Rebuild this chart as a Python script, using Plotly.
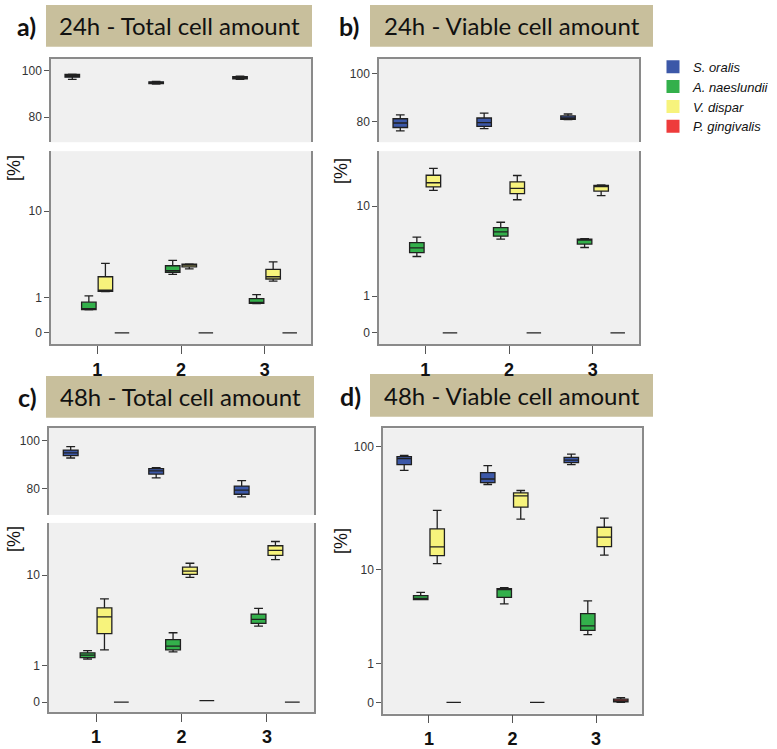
import plotly.graph_objects as go

W, H = 777, 749

GROUPS = [1, 2, 3]
SERIES = ["S. oralis", "A. naeslundii", "V. dispar", "P. gingivalis"]
COLORS = ["#3c58a8", "#33b04b", "#f7f37c", "#ee3b3b"]

# each box: [lower whisker, Q1, median, Q3, upper whisker]  (percent)
a_oralis = [[96.2, 97.1, 97.7, 98.3, 98.4], [94.1, 94.3, 94.7, 95.1, 95.3], [96.2, 96.4, 96.9, 97.3, 97.5]]
a_naesl = [[0.57, 0.58, 0.60, 0.83, 1.07], [2.17, 2.29, 2.40, 2.75, 3.17], [0.78, 0.79, 0.82, 0.96, 1.12]]
a_dispar = [[1.25, 1.27, 1.29, 2.02, 2.93], [2.53, 2.67, 2.80, 2.87, 2.90], [1.77, 1.89, 2.02, 2.49, 3.05]]
a_ging = [[0, 0, 0, 0, 0], [0, 0, 0, 0, 0], [0, 0, 0, 0, 0]]

b_oralis = [[76.0, 77.4, 79.3, 81.1, 82.7], [76.9, 77.9, 79.5, 81.4, 83.5], [80.7, 80.8, 81.4, 82.3, 83.1]]
b_naesl = [[3.24, 3.57, 4.00, 4.52, 5.11], [4.89, 5.23, 5.75, 6.32, 7.10], [4.03, 4.36, 4.81, 4.89, 4.95]]
b_dispar = [[13.8, 14.8, 16.1, 18.7, 21.4], [11.4, 12.9, 14.4, 16.4, 18.6], [12.4, 13.6, 14.9, 15.3, 15.4]]
b_ging = [[0, 0, 0, 0, 0], [0, 0, 0, 0, 0], [0, 0, 0, 0, 0]]

c_oralis = [[92.7, 93.7, 94.8, 96.0, 97.4], [84.4, 86.0, 87.3, 88.3, 88.7], [76.5, 77.6, 79.3, 81.0, 83.3]]
c_naesl = [[1.25, 1.32, 1.43, 1.54, 1.65], [1.58, 1.68, 1.88, 2.26, 2.71], [3.21, 3.43, 3.78, 4.28, 4.87]]
c_dispar = [[1.68, 2.65, 4.01, 4.94, 6.04], [9.58, 10.2, 10.9, 11.8, 12.8], [13.8, 15.0, 16.6, 18.2, 19.8]]
c_ging = [[0, 0, 0, 0, 0], [0.03, 0.03, 0.03, 0.03, 0.03], [0, 0, 0, 0, 0]]

d_oralis = [[64.6, 71.6, 79.9, 82.9, 84.9], [49.8, 51.6, 55.1, 62.0, 70.4], [71.6, 74.3, 77.9, 81.8, 86.9]]
d_naesl = [[5.38, 5.38, 5.53, 5.85, 6.27], [4.90, 5.64, 6.63, 6.77, 6.91], [2.39, 2.66, 2.98, 3.96, 5.23]]
d_dispar = [[11.2, 13.1, 15.5, 21.8, 30.9], [26.2, 32.8, 40.4, 42.7, 44.6], [13.2, 15.6, 18.7, 22.5, 26.7]]
d_ging = [[0, 0, 0, 0, 0], [0, 0, 0, 0, 0], [0.0, 0.01, 0.03, 0.06, 0.09]]

TITLES = ["24h - Total cell amount", "24h - Viable cell amount",
          "48h - Total cell amount", "48h - Viable cell amount"]
LABELS = ["a)", "b)", "c)", "d)"]
UPPER_TICKS = [80, 100]
LOWER_TICKS = [0, 1, 10]
FULL_TICKS = [0, 1, 10, 100]
X_TICKS = ["1", "2", "3"]

def px(x):
    return x / W

def py(y):
    return 1 - y / H

panels = [
    dict(data=[a_oralis, a_naesl, a_dispar, a_ging], x=(51, 311), up=(59, 143), lo=(152, 346),
         up_range=[69.3, 105.0], lo_range=[-0.097, 1.555],
         title_box=(46, 5, 312, 47), label_xy=(26, 26), pct_xy=(14, 169)),
    dict(data=[b_oralis, b_naesl, b_dispar, b_ging], x=(379, 639), up=(59, 143), lo=(152, 346),
         up_range=[71.2, 106.4], lo_range=[-0.092, 1.492],
         title_box=(370, 5, 653, 47), label_xy=(349, 26), pct_xy=(341, 172)),
    dict(data=[c_oralis, c_naesl, c_dispar, c_ging], x=(49, 314), up=(430, 517.7), lo=(525.7, 715.7),
         up_range=[69.0, 105.3], lo_range=[-0.08, 1.471],
         title_box=(46, 378, 314, 420), label_xy=(27, 399), pct_xy=(14, 542)),
    dict(data=[d_oralis, d_naesl, d_dispar, d_ging], x=(383, 642), up=None, lo=(430.7, 717.5),
         up_range=None, lo_range=[-0.088, 2.145],
         title_box=(370, 376, 653, 419), label_xy=(350, 398), pct_xy=(341, 544)),
]

fig = go.Figure()

LINE = "#8a8a8a"
TICKFONT = dict(family="Liberation Sans, Arial, sans-serif", size=12, color="#333333")
XTICKFONT = dict(family="Liberation Sans, Arial, sans-serif", size=18, color="#111111", weight="bold")

def add_boxes(k, data, log):
    for i, series in enumerate(data):
        vals = [[v + 1 for v in b] if log else b for b in series]
        fig.add_trace(go.Box(
            x=GROUPS,
            lowerfence=[b[0] for b in vals], q1=[b[1] for b in vals], median=[b[2] for b in vals],
            q3=[b[3] for b in vals], upperfence=[b[4] for b in vals],
            fillcolor=COLORS[i], line=dict(color="#202020", width=1.3),
            whiskerwidth=0.6, boxpoints=False, name=SERIES[i],
            offsetgroup=str(i), alignmentgroup="g",
            showlegend=False, hoverinfo="skip",
            xaxis="x%d" % k, yaxis="y%d" % k))

def lower_x(xd, k, mirror):
    return dict(domain=xd, range=[0.45, 3.55], anchor="y%d" % k,
                tickvals=GROUPS, ticktext=X_TICKS, ticks="outside", ticklen=8, tickwidth=1.3,
                ticklabelstandoff=0,
                tickcolor="#555555", tickfont=XTICKFONT, showgrid=False, zeroline=False,
                showline=True, mirror=mirror, linecolor=LINE, linewidth=1.5)

layout = {}
shapes = []
annotations = []
k = 0
for p in panels:
    xd = [px(p["x"][0]), px(p["x"][1])]
    if p["up"] is not None:
        # upper (linear) part
        k += 1
        add_boxes(k, p["data"], log=False)
        layout["xaxis%d" % k] = dict(domain=xd, range=[0.45, 3.55], anchor="y%d" % k,
                                     showticklabels=False, ticks="", showgrid=False, zeroline=False,
                                     showline=True, side="top", linecolor=LINE, linewidth=1.5)
        layout["yaxis%d" % k] = dict(domain=[py(p["up"][1]), py(p["up"][0])], range=p["up_range"],
                                     anchor="x%d" % k, tickvals=UPPER_TICKS, ticks="outside", ticklen=5,
                                     tickcolor="#555555", tickfont=TICKFONT, showgrid=False, zeroline=False,
                                     showline=True, mirror=True, linecolor=LINE, linewidth=1.5)
        # lower (log(x+1)) part
        k += 1
        add_boxes(k, p["data"], log=True)
        layout["xaxis%d" % k] = lower_x(xd, k, False)
        layout["yaxis%d" % k] = dict(domain=[py(p["lo"][1]), py(p["lo"][0])], range=p["lo_range"],
                                     type="log", anchor="x%d" % k,
                                     tickvals=[t + 1 for t in LOWER_TICKS], ticktext=[str(t) for t in LOWER_TICKS],
                                     ticks="outside", ticklen=5, tickcolor="#555555", tickfont=TICKFONT,
                                     showgrid=False, zeroline=False,
                                     showline=True, mirror=True, linecolor=LINE, linewidth=1.5)
    else:
        k += 1
        add_boxes(k, p["data"], log=True)
        layout["xaxis%d" % k] = lower_x(xd, k, True)
        layout["yaxis%d" % k] = dict(domain=[py(p["lo"][1]), py(p["lo"][0])], range=p["lo_range"],
                                     type="log", anchor="x%d" % k,
                                     tickvals=[t + 1 for t in FULL_TICKS], ticktext=[str(t) for t in FULL_TICKS],
                                     ticks="outside", ticklen=5, tickcolor="#555555", tickfont=TICKFONT,
                                     showgrid=False, zeroline=False,
                                     showline=True, mirror=True, linecolor=LINE, linewidth=1.5)

for idx, p in enumerate(panels):
    x0, y0, x1, y1 = p["title_box"]
    shapes.append(dict(type="rect", xref="paper", yref="paper", x0=px(x0), x1=px(x1), y0=py(y1), y1=py(y0),
                       fillcolor="#c8bf9c", line=dict(width=0), layer="below"))
    annotations.append(dict(xref="paper", yref="paper", x=px((x0 + x1) / 2), y=py((y0 + y1) / 2),
                            text=TITLES[idx], showarrow=False, xanchor="center", yanchor="middle",
                            font=dict(family="Lato, Open Sans, sans-serif", size=24, color="#111111")))
    lx, ly = p["label_xy"]
    annotations.append(dict(xref="paper", yref="paper", x=px(lx), y=py(ly), text="<b>%s</b>" % LABELS[idx],
                            showarrow=False, xanchor="center", yanchor="middle",
                            font=dict(family="Lato, Open Sans, sans-serif", size=25, color="#111111")))
    qx, qy = p["pct_xy"]
    annotations.append(dict(xref="paper", yref="paper", x=px(qx), y=py(qy), text="[%]", textangle=-90,
                            showarrow=False, xanchor="center", yanchor="middle",
                            font=dict(family="Liberation Sans, Arial, sans-serif", size=18, color="#111111")))

# legend entries
for i, name in enumerate(SERIES):
    fig.add_trace(go.Scatter(x=[None], y=[None], mode="markers", name="<i>%s</i>" % name,
                             marker=dict(symbol="square", size=13, color=COLORS[i]),
                             xaxis="x1", yaxis="y1", showlegend=True))

fig.update_layout(
    width=W, height=H, margin=dict(l=0, r=0, t=0, b=0),
    paper_bgcolor="white", plot_bgcolor="#f0f0f0",
    boxmode="group", boxgap=0.21, boxgroupgap=0.125,
    shapes=shapes, annotations=annotations,
    legend=dict(x=px(653), y=py(52), xanchor="left", yanchor="top", tracegroupgap=0,
                font=dict(family="Liberation Sans, Arial, sans-serif", size=13, color="#111111"),
                bgcolor="rgba(0,0,0,0)", itemwidth=30),
    **layout)

fig.write_html("out.html", config={"displayModeBar": False},
               post_script="document.body.style.margin='0px';")
